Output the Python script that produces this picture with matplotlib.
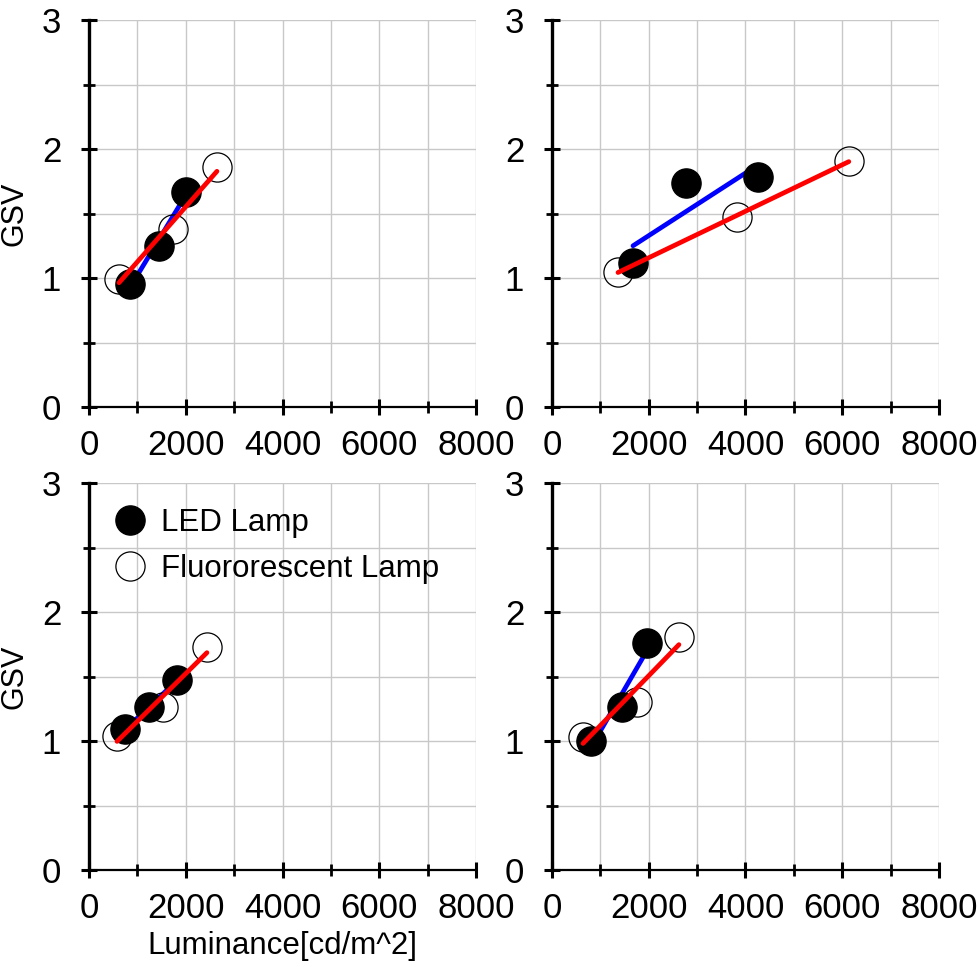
import matplotlib
matplotlib.use("Agg")
import matplotlib.pyplot as plt
from matplotlib.ticker import MultipleLocator
from matplotlib.lines import Line2D
import numpy as np

plt.rcParams['font.family'] = ['Liberation Sans', 'DejaVu Sans']

# luminance [cd/m^2] and GSV per panel (top-left, top-right, bottom-left, bottom-right)
led_lum = [
    [847, 1446, 2004],
    [1674, 2769, 4256],
    [744, 1240, 1818],
    [806, 1446, 1963],
]
led_gsv = [
    [0.95, 1.25, 1.67],
    [1.12, 1.74, 1.78],
    [1.09, 1.26, 1.47],
    [1.00, 1.26, 1.76],
]
fl_lum = [
    [620, 1736, 2645],
    [1364, 3822, 6136],
    [579, 1529, 2438],
    [640, 1756, 2624],
]
fl_gsv = [
    [0.99, 1.38, 1.86],
    [1.05, 1.47, 1.91],
    [1.04, 1.26, 1.73],
    [1.03, 1.30, 1.81],
]

xticks = [0, 2000, 4000, 6000, 8000]
yticks = [0, 1, 2, 3]

fig = plt.figure(figsize=(9.79, 9.67), dpi=100)
W, H = 979, 967
boxes = [(89, 20), (552, 20), (89, 483), (552, 483)]
size = 387

axes = []
for i, (px, py) in enumerate(boxes):
    ax = fig.add_axes([px / W, 1 - (py + size) / H, size / W, size / H])
    axes.append(ax)

    x1, y1 = np.array(led_lum[i]), np.array(led_gsv[i])
    x2, y2 = np.array(fl_lum[i]), np.array(fl_gsv[i])

    # regression lines
    k1 = np.polyfit(x1, y1, 1)
    xs = np.array([x1.min(), x1.max()])
    ax.plot(xs, np.polyval(k1, xs), color='#0000ff', lw=3.4, zorder=3,
            solid_capstyle='round')
    ax.plot(x1, y1, 'o', ms=21, color='black', zorder=4)
    ax.plot(x2, y2, 'o', ms=21, mfc='none', mec='black', mew=0.9, zorder=4)
    k2 = np.polyfit(x2, y2, 1)
    xs = np.array([x2.min(), x2.max()])
    ax.plot(xs, np.polyval(k2, xs), color='#ff0000', lw=3.4, zorder=5,
            solid_capstyle='round')

    ax.set_xlim(0, 8000)
    ax.set_ylim(0, 3)
    ax.set_xticks(xticks)
    ax.set_yticks(yticks)
    ax.xaxis.set_minor_locator(MultipleLocator(1000))
    ax.yaxis.set_minor_locator(MultipleLocator(0.5))
    ax.grid(True, which='both', color='#c8c8c8', lw=1.0, zorder=0)
    ax.set_axisbelow(True)

    for s in ['top', 'right']:
        ax.spines[s].set_visible(False)
    ax.spines['left'].set_linewidth(2.4)
    ax.spines['bottom'].set_linewidth(1.6)
    ax.tick_params(which='major', direction='inout', length=12, width=2.2,
                   labelsize=25)
    ax.tick_params(which='minor', direction='inout', length=8, width=2.0)
    ax.tick_params(axis='y', pad=14)
    ax.tick_params(axis='x', pad=10)

    if i in (0, 2):
        ax.set_ylabel('GSV', fontsize=22)
        ax.yaxis.set_label_coords(-0.155, 0.5)

axes[2].set_xlabel('Luminance[cd/m^2]', fontsize=22.5, labelpad=4)

handles = [
    Line2D([], [], ls='none', marker='o', ms=21, color='black'),
    Line2D([], [], ls='none', marker='o', ms=21, mfc='none', mec='black', mew=0.9),
]
axes[2].legend(handles, ['LED Lamp', 'Fluororescent Lamp'], loc='upper left',
               frameon=False, fontsize=22.5, handlelength=1.0, handletextpad=0.5,
               labelspacing=0.5, borderaxespad=0.4, bbox_to_anchor=(0.0, 1.0))

fig.savefig('out.png', dpi=100)
